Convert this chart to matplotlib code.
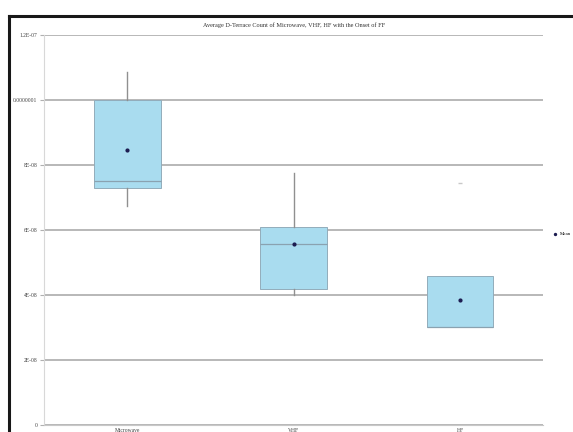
import numpy as np
import matplotlib.pyplot as plt
from matplotlib.lines import Line2D
plt.rcParams.update({'font.size': 4, 'font.family': 'Liberation Serif'})

categories = ["Microwave", "VHF", "HF"]
q1 = [7.29e-08, 4.18e-08, 3.02e-08]
medians = [7.51e-08, 5.57e-08, 3.02e-08]
q3 = [1.0e-07, 6.09e-08, 4.58e-08]
whisk_lo = [6.74e-08, 4.0e-08, 3.02e-08]
whisk_hi = [1.086e-07, 7.75e-08, 4.58e-08]
means = [8.46e-08, 5.57e-08, 3.85e-08]
outliers = [[], [], [7.45e-08]]

yticks = [0, 2e-08, 4e-08, 6e-08, 8e-08, 1e-07, 1.2e-07]
ytick_labels = ["0", "2E-08", "4E-08", "6E-08", "8E-08", "0.0000001", "1.2E-07"]

fig = plt.figure(figsize=(5.73, 4.32), dpi=100)
ax = fig.add_axes([0.077, 0.016, 0.871, 0.903])

# grid behind the boxes
ax.set_axisbelow(True)
ax.yaxis.grid(True, color="#ababab", linewidth=1.2)

stats = []
for i, name in enumerate(categories):
    stats.append(dict(label=name, q1=q1[i], med=medians[i], q3=q3[i],
                      whislo=whisk_lo[i], whishi=whisk_hi[i], fliers=outliers[i]))

pos = np.arange(len(categories))
ax.bxp(stats, positions=pos, widths=0.4, patch_artist=True, showcaps=False,
       boxprops=dict(facecolor="#a9dcef", edgecolor="#92acbb", linewidth=0.7),
       medianprops=dict(color="#8aa2b0", linewidth=0.9),
       whiskerprops=dict(color="#909090", linewidth=1.0),
       flierprops=dict(marker="_", markeredgecolor="#c8c8c8", markersize=3))

ax.scatter(pos, means, s=4, color="#1c1c50", zorder=5, label="Mean")

ax.set_xlim(-0.5, 2.5)
ax.set_ylim(0, 1.2e-07)
ax.set_yticks(yticks)
ax.set_yticklabels(ytick_labels, color="#404040")
ax.tick_params(axis="y", length=3, color="#b0b0b0", pad=2)
ax.tick_params(axis="x", length=0, pad=2, labelcolor="#404040")

for side in ["top", "right"]:
    ax.spines[side].set_visible(False)
ax.spines["left"].set_color("#d8d8d8")
ax.spines["bottom"].set_color("#c8c8c8")

ax.set_title("Average D-Terrace Count of Microwave, VHF, HF with the Onset of FF",
             fontsize=4.5, pad=6, color="#303030")

ax.legend(loc="center left", bbox_to_anchor=(1.005, 0.49), frameon=False,
          handletextpad=0.1, markerscale=0.7, fontsize=3.5)

# dark frame around the figure
fig.add_artist(Line2D([0.016, 0.016], [0, 0.963], color="#181818", linewidth=2.2))
fig.add_artist(Line2D([0.016, 1.0], [0.963, 0.963], color="#181818", linewidth=2.2))

fig.savefig("out.png", dpi=100)
